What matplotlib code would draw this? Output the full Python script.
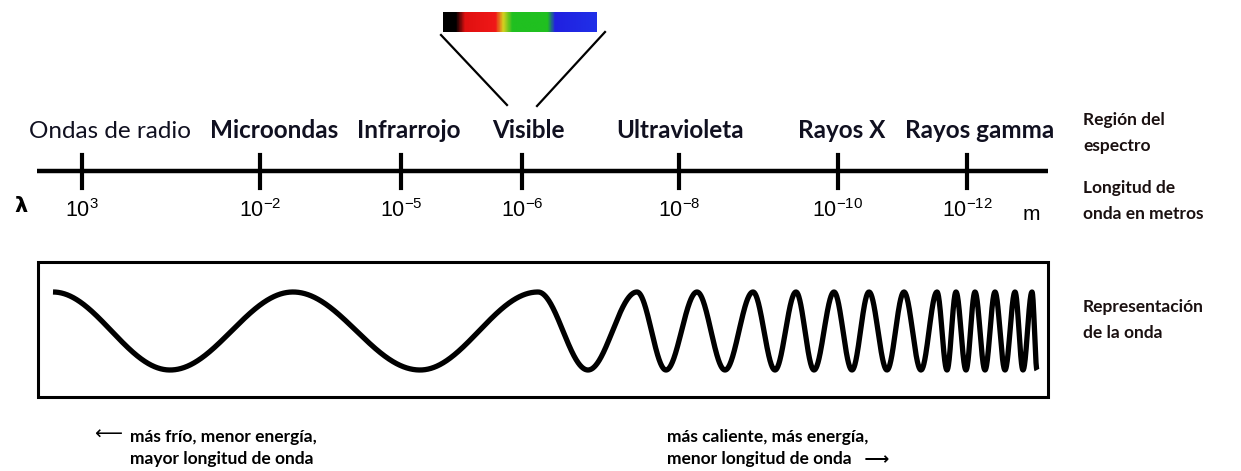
import matplotlib
matplotlib.use("Agg")
import matplotlib.pyplot as plt
import numpy as np
from matplotlib.colors import LinearSegmentedColormap
from matplotlib.patches import Rectangle

# --- data ---
regions = ["Ondas de radio", "Microondas", "Infrarrojo", "Visible",
           "Ultravioleta", "Rayos X", "Rayos gamma"]
exponents = ["3", "-2", "-5", "-6", "-8", "-10", "-12"]
side_labels = ["Región del\nespectro", "Longitud de\nonda en metros",
               "Representación\nde la onda"]
note_cold = "más frío, menor energía,\nmayor longitud de onda"
note_hot = "más caliente, más energía,\nmenor longitud de onda   ⟶"

# crests / troughs of the drawn wave (alternating, starts at a crest)
wave_extrema_x = [53, 170, 293, 420, 538, 588, 637, 666, 697, 725, 753, 775,
                  796, 814, 834, 852, 869, 887, 904, 921, 937, 947, 956, 966,
                  975, 985, 995, 1005, 1015, 1023, 1032, 1037]
wave_crest_y = 292
wave_trough_y = 370

# visible strip colours
spectrum_stops = [(0.0, "black"), (0.08, "black"), (0.14, "#e01010"),
                  (0.34, "#f01818"), (0.39, "#d8d020"), (0.45, "#20c020"),
                  (0.68, "#20c020"), (0.73, "#2020e0"), (1.0, "#2030e8")]

# layout (pixels)
tick_x = [82, 260, 401, 522, 679, 838, 967]
region_x = [110, 274, 409, 528, 680, 842, 980]

plt.rcParams['font.family'] = ['Lato', 'DejaVu Sans']
plt.rcParams['mathtext.default'] = 'regular'

fig = plt.figure(figsize=(12.41, 4.71), dpi=100)
ax = fig.add_axes([0, 0, 1, 1])
ax.set_xlim(0, 1241)
ax.set_ylim(471, 0)
ax.axis('off')

# spectrum strip and the two lines down to "Visible"
cmap = LinearSegmentedColormap.from_list("vis", spectrum_stops)
ax.imshow(np.linspace(0, 1, 200)[None, :], cmap=cmap, aspect='auto',
          extent=(443, 597, 32, 12), interpolation='bilinear')
ax.plot([441, 507], [35, 105], color='black', lw=1.6)
ax.plot([605, 537], [32, 106], color='black', lw=1.6)

# wavelength axis
ax.plot([37, 1048], [171, 171], color='black', lw=3.2, solid_capstyle='butt')
for x, reg, ex, lx in zip(tick_x, regions, exponents, region_x):
    ax.plot([x, x], [155, 188], color='black', lw=3.0)
    ax.text(x, 211, '$10^{%s}$' % ex, ha='center', va='center', fontsize=15.5,
            family=['Liberation Sans', 'DejaVu Sans'])
    w = 'normal' if reg == "Ondas de radio" else 'bold'
    ax.text(lx, 131, reg, ha='center', va='center', fontsize=17.5,
            fontweight=w, color='#101020')
ax.text(21, 206, 'λ', ha='center', va='center', fontsize=15,
        fontweight='bold', family=['DejaVu Sans'])
ax.text(1031, 214, 'm', ha='center', va='center', fontsize=15,
        family=['Liberation Sans', 'DejaVu Sans'])

# wave box
ax.add_patch(Rectangle((38, 262), 1010, 135, fill=False, ec='black', lw=2.2))
xs = np.linspace(wave_extrema_x[0], wave_extrema_x[-1], 4000)
phase = np.interp(xs, wave_extrema_x, np.arange(len(wave_extrema_x)) * np.pi)
mid = (wave_crest_y + wave_trough_y) / 2
amp = (wave_trough_y - wave_crest_y) / 2
ax.plot(xs, mid - amp * np.cos(phase), color='black', lw=3.8,
        solid_capstyle='butt')

# right-hand captions
for lab, y in zip(side_labels, [133, 201, 320]):
    ax.text(1083, y, lab, ha='left', va='center', fontsize=12.5,
            fontweight='bold', color='#1a1010', linespacing=1.7)

# bottom notes
ax.text(108, 434, '⟵', ha='center', va='center', fontsize=14,
        family=['DejaVu Sans'])
ax.text(130, 448, note_cold, ha='left', va='center', fontsize=12.5,
        fontweight='bold', linespacing=1.45)
ax.text(667, 448, note_hot, ha='left', va='center', fontsize=12.5,
        fontweight='bold', linespacing=1.45)

fig.savefig('out.png', dpi=100)
